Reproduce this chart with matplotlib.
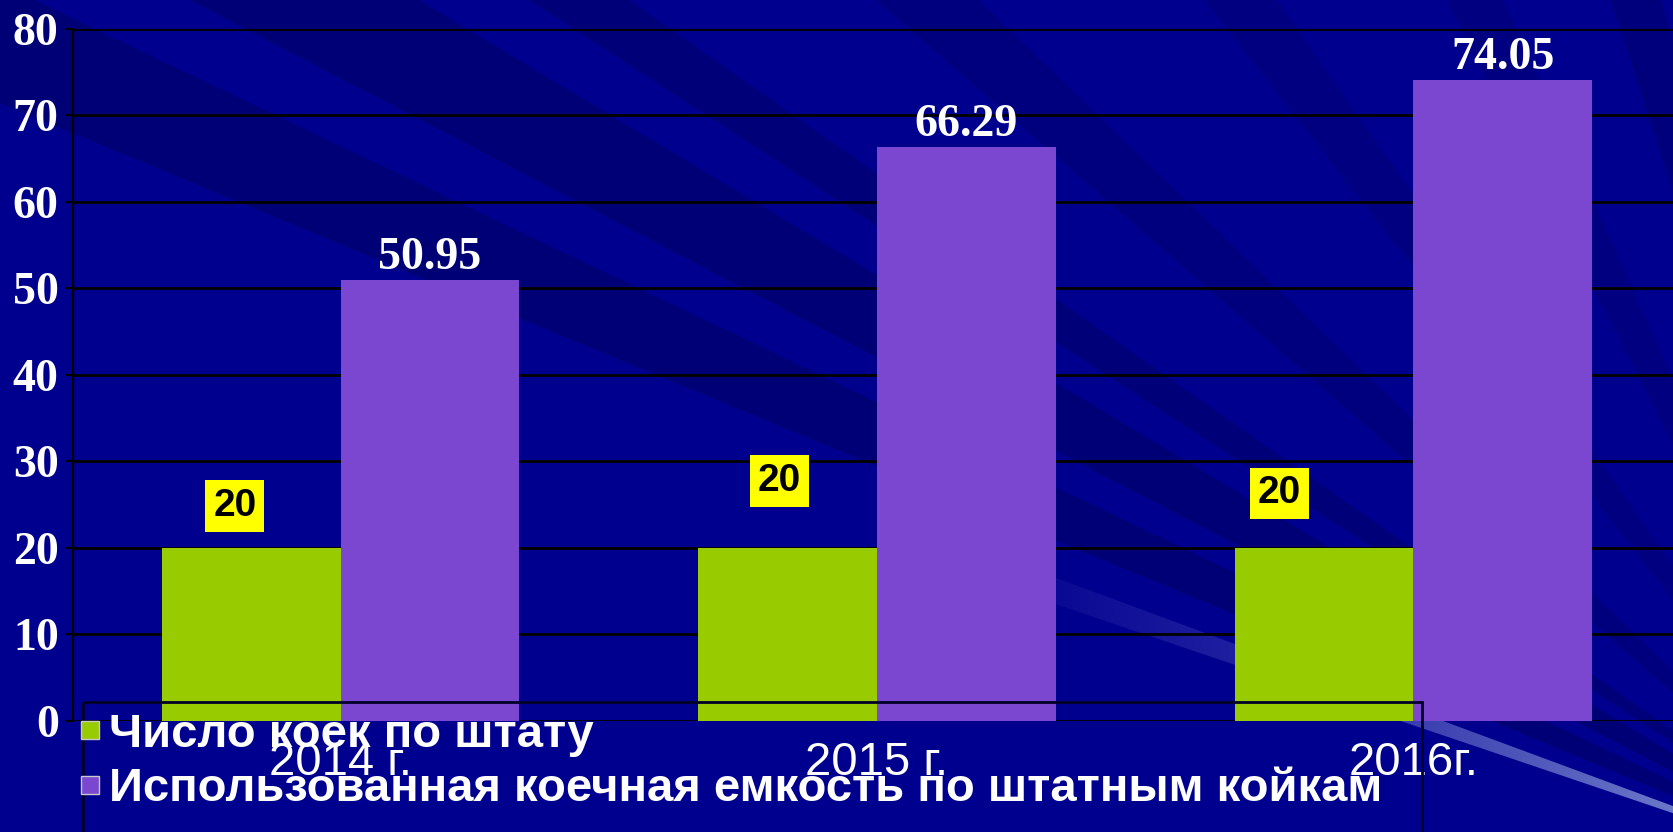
import numpy as np
import matplotlib
matplotlib.use("Agg")
import matplotlib.pyplot as plt
from matplotlib.patches import Polygon, Rectangle
from matplotlib.lines import Line2D

# data
years = ["2014 г.", "2015 г.", "2016г."]
beds_staff = [20, 20, 20]
beds_used = [50.95, 66.29, 74.05]
series_names = ["Число коек по штату",
                "Использованная коечная емкость по штатным койкам"]
y_ticks = [0, 10, 20, 30, 40, 50, 60, 70, 80]
# hand nudges (points) for the yellow "20" boxes: dx, dy above bar top
staff_label_nudge = [(-12, 30), (-6, 48), (-32, 39)]

GREEN = "#99CC00"
PURPLE = "#7B47D0"
W, H = 1674, 832

fig = plt.figure(figsize=(W / 100, H / 100), dpi=100)
fig.patch.set_facecolor("#00008E")

# background: darker rays coming out of a point off the lower right corner
bg = fig.add_axes([0, 0, 1, 1], zorder=-10)
bg.set_xlim(0, W)
bg.set_ylim(H, 0)
bg.axis("off")
px, py = 1900, 890
def wedge(a1, a2, R=4000):
    t1, t2 = np.radians(a1), np.radians(a2)
    return [(px, py), (px - R * np.cos(t1), py - R * np.sin(t1)),
            (px - R * np.cos(t2), py - R * np.sin(t2))]
for a1, a2, c in [(22.5, 25.5, "#000076"), (27.5, 31, "#000076"),
                  (33, 35, "#000078"), (41, 44, "#00007E"),
                  (52, 55, "#000080"), (63, 66, "#000080"),
                  (72, 75, "#00007C")]:
    bg.add_patch(Polygon(wedge(a1, a2), closed=True, fc=c, ec="none"))
# light beam at the bottom right
beam = Polygon(wedge(18.7, 20.3), closed=True, fc="none", ec="none")
bg.add_patch(beam)
grad = np.linspace(0, 1, 256).reshape(1, -1)
cmap = matplotlib.colors.LinearSegmentedColormap.from_list(
    "beam", ["#00008E", "#2A2AA8", "#6A78C8"])
im = bg.imshow(grad, extent=[980, W, H, 500], cmap=cmap, aspect="auto")
im.set_clip_path(beam)

# main chart
ax = fig.add_axes([72.6 / W, (H - 720.6) / H, 1 - 72.6 / W, 691.8 / H])
ax.set_facecolor("none")
x = np.arange(len(years))
bw = 0.333
b1 = ax.bar(x - bw / 2, beds_staff, bw, color=GREEN, zorder=3)
b2 = ax.bar(x + bw / 2, beds_used, bw, color=PURPLE, zorder=3)
ax.set_xlim(-0.5, 2.486)
ax.set_ylim(0, 80)
ax.set_yticks(y_ticks)
ax.yaxis.grid(True, color="black", lw=2)
ax.set_axisbelow(True)
for s in ["top", "right", "bottom"]:
    ax.spines[s].set_visible(False)
ax.spines["left"].set_color("black")
ax.spines["left"].set_linewidth(1.5)
ax.tick_params(axis="y", colors="black", length=6, width=1.5, pad=4,
               labelcolor="white", labelsize=33)
for lab in ax.get_yticklabels():
    lab.set_fontfamily("Liberation Serif")
    lab.set_fontweight("bold")
ax.set_xticks(x)
ax.set_xticklabels(years, color="white", fontsize=34, family="Liberation Sans")
ax.tick_params(axis="x", length=0, pad=15)

for rect, v in zip(b2, beds_used):
    ax.annotate(f"{v:.2f}", (rect.get_x() + rect.get_width() / 2, v),
                xytext=(0, 8), textcoords="offset points", ha="center",
                va="baseline", color="white", fontsize=33, fontweight="bold",
                family="Liberation Serif", zorder=5)
for rect, v, (dx, dy) in zip(b1, beds_staff, staff_label_nudge):
    ax.annotate(f"{v}", (rect.get_x() + rect.get_width() / 2, v),
                xytext=(dx, dy), textcoords="offset points", ha="center",
                va="center", color="black", fontsize=28, fontweight="bold",
                family="Liberation Sans",
                bbox=dict(boxstyle="square,pad=0.2", fc="#FFFF00", ec="none"),
                zorder=5)

# legend (frame drawn separately, it runs off the bottom of the slide)
handles = [Line2D([], [], marker="s", ls="none", markersize=13,
                  markerfacecolor=c, markeredgecolor="#C8C8C8", markeredgewidth=1)
           for c in (GREEN, PURPLE)]
fig.legend(handles, series_names, loc="upper left",
           bbox_to_anchor=(78 / W, 1 - 713 / H), frameon=False,
           prop=dict(family="Liberation Sans", weight="bold", size=34),
           labelcolor="white", borderpad=0, borderaxespad=0,
           handlelength=0.5, handletextpad=0.15, labelspacing=0.22)

top = fig.add_axes([0, 0, 1, 1], zorder=5)
top.set_xlim(0, W)
top.set_ylim(H, 0)
top.axis("off")
top.add_patch(Rectangle((83, 702), 1422 - 83, 200, fc="none",
                        ec="#000028", lw=2))

fig.savefig("out.png", dpi=100, facecolor=fig.get_facecolor())
